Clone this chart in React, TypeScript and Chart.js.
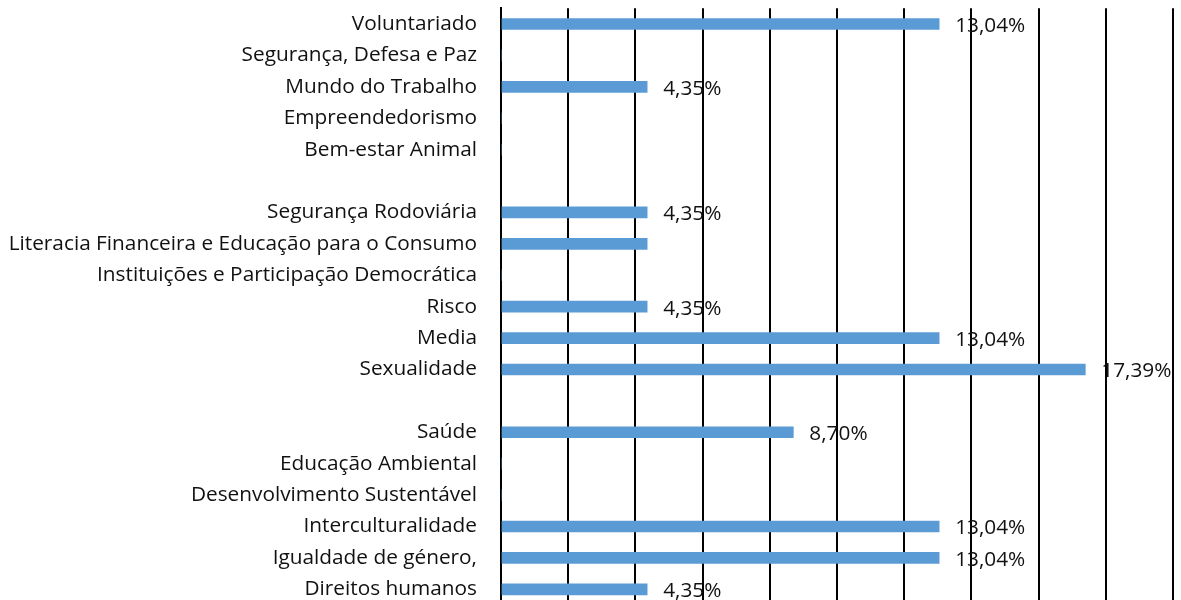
import React, { useEffect, useRef } from "react";
import { Chart, registerables } from "chart.js";

Chart.register(...registerables);

const categories: string[] = [
  "Voluntariado",
  "Segurança, Defesa e Paz",
  "Mundo do Trabalho",
  "Empreendedorismo",
  "Bem-estar Animal",
  "",
  "Segurança Rodoviária",
  "Literacia Financeira e Educação para o Consumo",
  "Instituições e Participação Democrática",
  "Risco",
  "Media",
  "Sexualidade",
  "",
  "Saúde",
  "Educação Ambiental",
  "Desenvolvimento Sustentável",
  "Interculturalidade",
  "Igualdade de género,",
  "Direitos humanos",
];

const values: (number | null)[] = [
  13.04, 0, 4.35, 0, 0, null, 4.35, 4.35, 0, 4.35, 13.04, 17.39, null, 8.7, 0, 0, 13.04, 13.04, 4.35,
];

const valueLabels: string[] = [
  "13,04%", "", "4,35%", "", "", "", "4,35%", "", "", "4,35%", "13,04%", "17,39%", "", "8,70%", "", "", "13,04%", "13,04%", "4,35%",
];

const xTicks = { min: 0, max: 20, step: 2 };

const FONT = "'Open Sans', 'Noto Sans', sans-serif";
const FONT_SIZE = 20.8;

const valueLabelPlugin = {
  id: "valueLabels",
  afterDatasetsDraw(chart: any) {
    const ctx = chart.ctx;
    const meta = chart.getDatasetMeta(0);
    ctx.save();
    ctx.font = `${FONT_SIZE}px ${FONT}`;
    ctx.fillStyle = "#111";
    ctx.textAlign = "left";
    ctx.textBaseline = "middle";
    meta.data.forEach((el: any, i: number) => {
      const t = valueLabels[i];
      if (!t) return;
      ctx.fillText(t, el.x + 16, el.y + 2);
    });
    ctx.restore();
  },
};

export default function App() {
  const ref = useRef<HTMLCanvasElement | null>(null);
  useEffect(() => {
    if (!ref.current) return;
    const chart = new Chart(ref.current, {
      type: "bar",
      data: {
        labels: categories,
        datasets: [
          {
            data: values as any,
            backgroundColor: "#5B9BD5",
            barThickness: 11,
          },
        ],
      },
      options: {
        indexAxis: "y",
        animation: false,
        responsive: false,
        layout: { padding: { top: 8.3, right: 8, bottom: 8, left: 0 } },
        plugins: { legend: { display: false }, tooltip: { enabled: false } },
        scales: {
          x: {
            min: xTicks.min,
            max: xTicks.max,
            ticks: { stepSize: xTicks.step, display: false },
            grid: { color: "#000", lineWidth: 2, drawTicks: false },
            border: { display: false },
          },
          y: {
            afterFit: (scale: any) => {
              scale.width = 501;
              scale.paddingTop = 0;
              scale.paddingBottom = 0;
            },
            ticks: {
              color: "#111",
              padding: 24,
              font: { family: FONT, size: FONT_SIZE },
              autoSkip: false,
            },
            grid: { display: false, drawTicks: false },
            border: { display: true, color: "#000", width: 2 },
          },
        },
      },
      plugins: [valueLabelPlugin],
    });
    return () => chart.destroy();
  }, []);
  return (
    <div style={{ position: "absolute", left: 0, top: 0, width: 1181, height: 613 }}>
      <canvas ref={ref} width={1181} height={613} style={{ width: 1181, height: 613 }} />
    </div>
  );
}
